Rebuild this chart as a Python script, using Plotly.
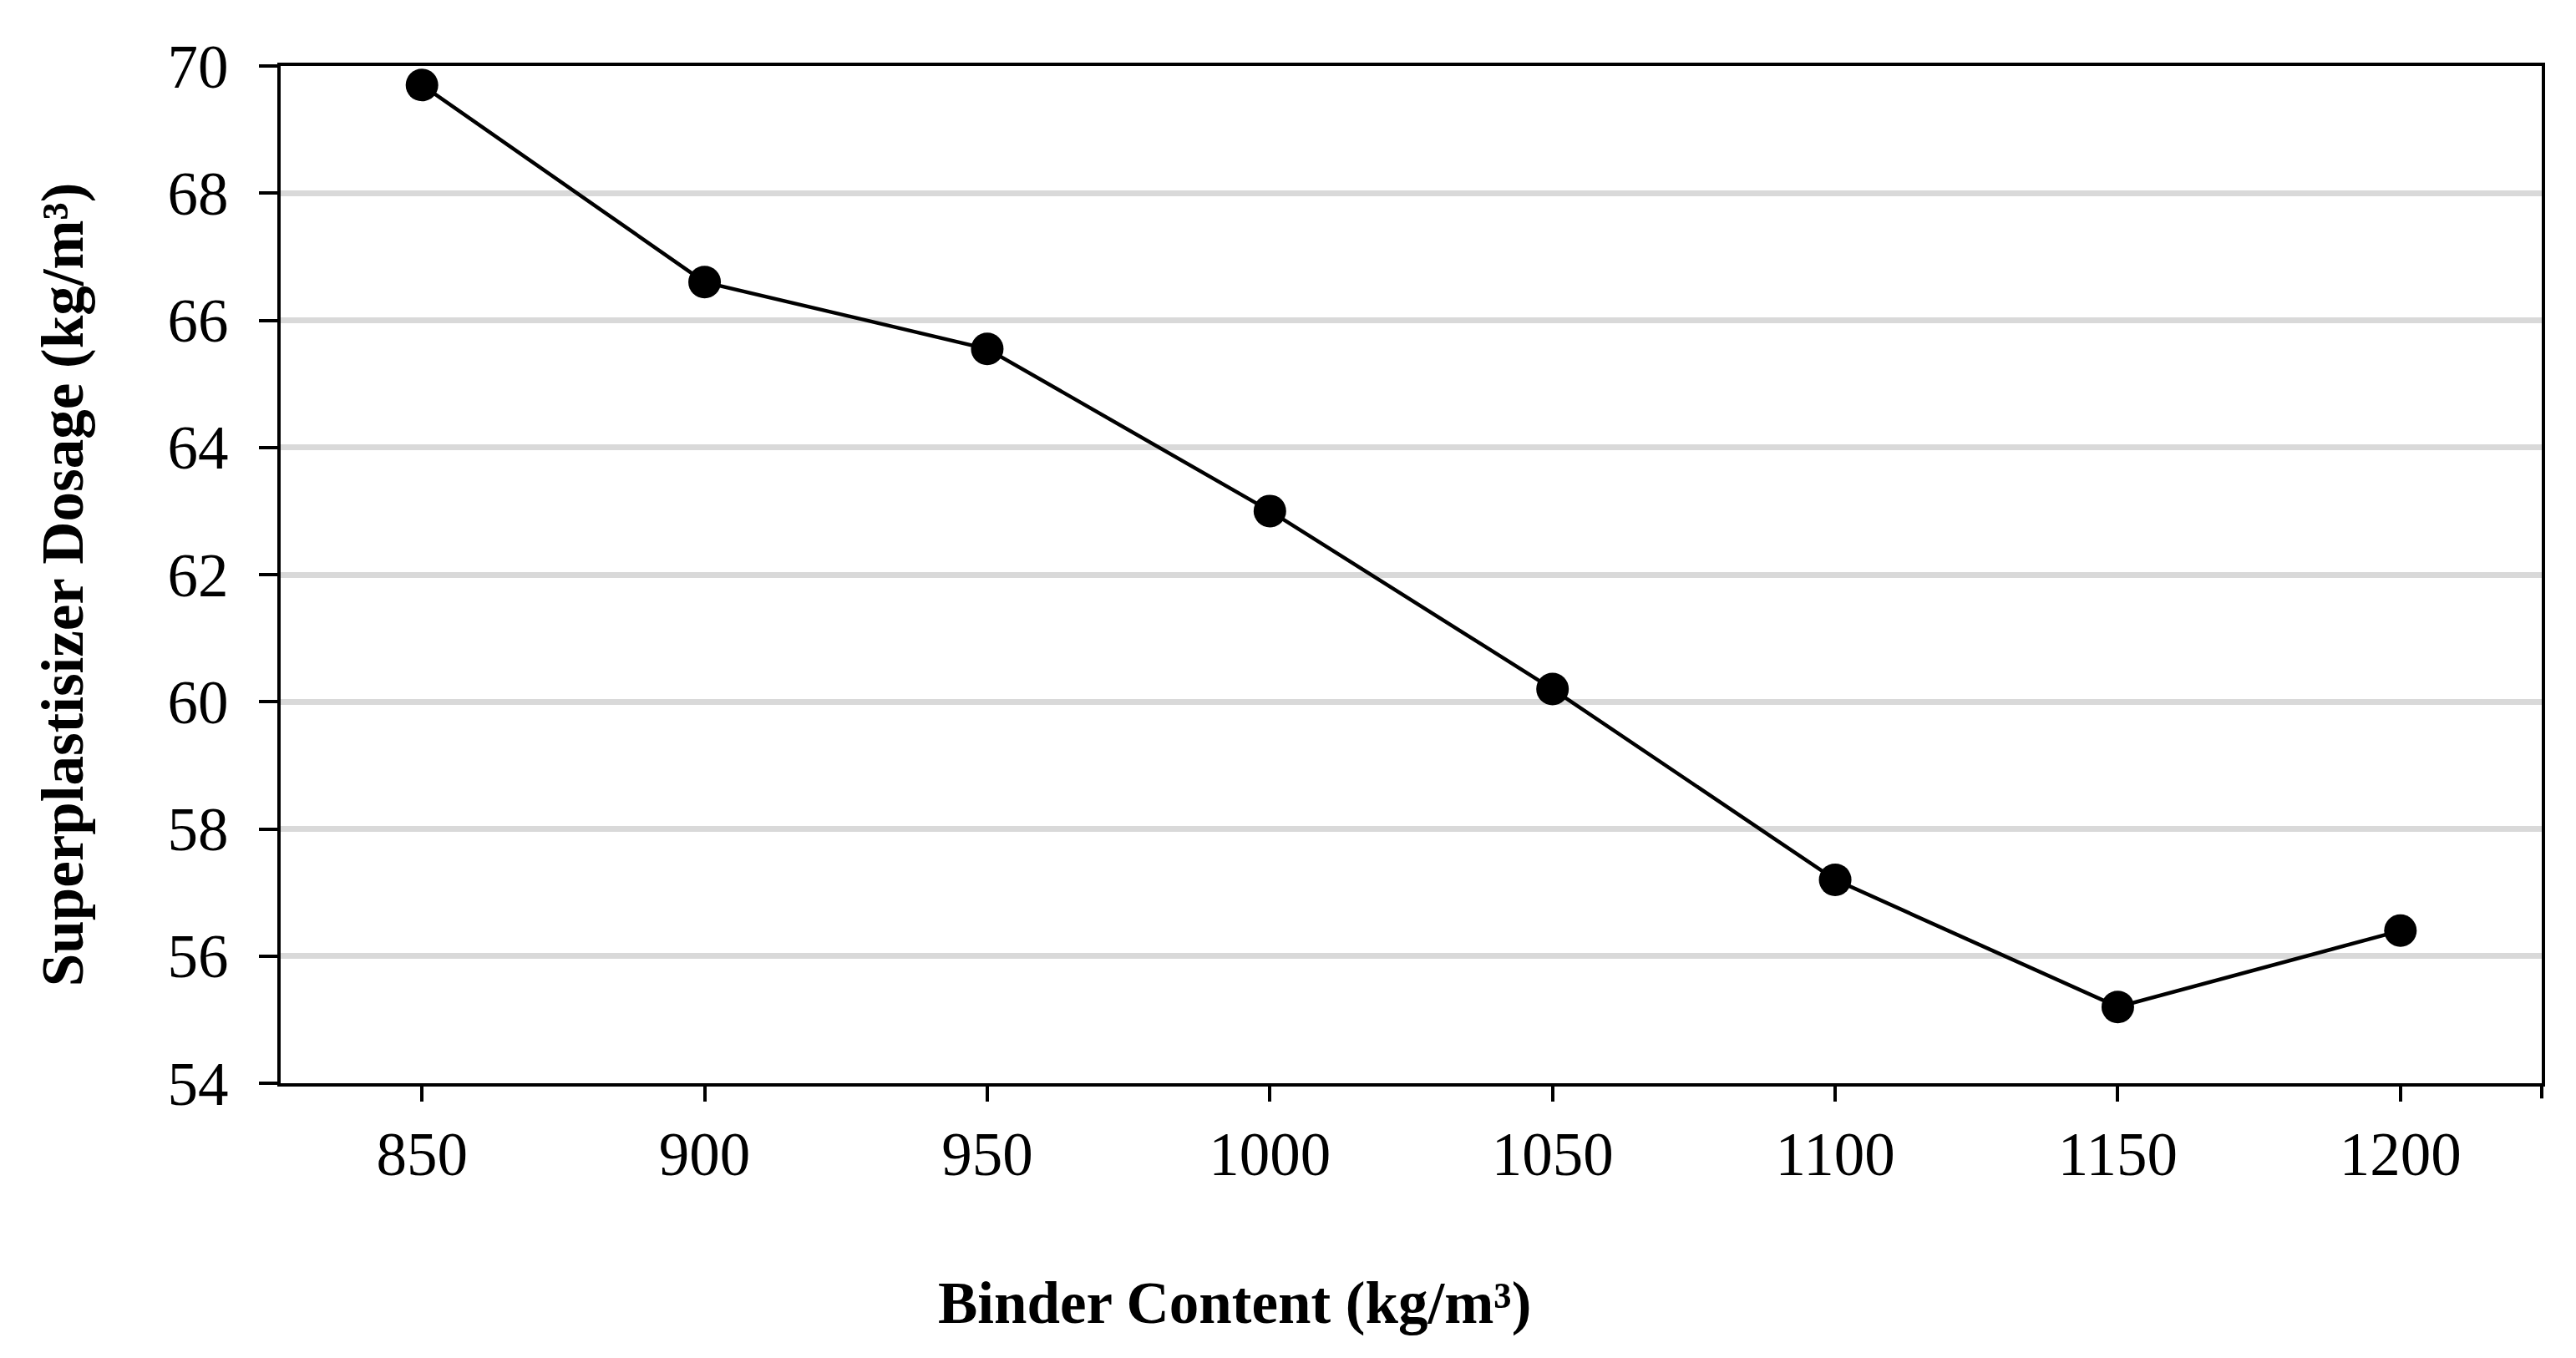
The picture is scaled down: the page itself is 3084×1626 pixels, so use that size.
import plotly.graph_objects as go

# Data
binder_content = [850, 900, 950, 1000, 1050, 1100, 1150, 1200]
sp_dosage = [69.7, 66.6, 65.55, 63.0, 60.2, 57.2, 55.2, 56.4]
x_ticks = [850, 900, 950, 1000, 1050, 1100, 1150, 1200]
y_ticks = [54, 56, 58, 60, 62, 64, 66, 68, 70]

x_title = "Binder Content (kg/m³)"
y_title = "Superplastisizer Dosage (kg/m³)"

tick_font = dict(family="Liberation Serif, Times New Roman, serif", size=73, color="black")
title_font = dict(family="Liberation Serif, Times New Roman, serif", size=71, color="black")

fig = go.Figure()

fig.add_trace(go.Scatter(
    x=binder_content,
    y=sp_dosage,
    mode="lines+markers",
    line=dict(color="black", width=4.5),
    marker=dict(color="black", size=39),
    showlegend=False
))

fig.update_xaxes(
    range=[825, 1225],
    tickvals=x_ticks,
    ticktext=[str(v) for v in x_ticks],
    showgrid=False,
    zeroline=False,
    showline=True,
    linecolor="black",
    linewidth=4,
    mirror=True,
    ticks="outside",
    ticklen=18,
    tickwidth=4,
    tickcolor="black",
    tickfont=tick_font,
)

fig.update_yaxes(
    range=[54, 70],
    tickvals=y_ticks,
    showgrid=True,
    gridcolor="#d9d9d9",
    gridwidth=7,
    zeroline=False,
    showline=True,
    linecolor="black",
    linewidth=4,
    mirror=True,
    ticks="outside",
    ticklen=22,
    tickwidth=4,
    tickcolor="black",
    tickfont=tick_font,
    ticklabelstandoff=22,
)

# small tick below the right end of the x axis, as in the original
fig.add_shape(
    type="line", xref="paper", yref="paper",
    x0=1, x1=1, y0=0, y1=-0.015,
    line=dict(color="black", width=4),
)

# Axis titles placed as annotations to match the offset in the original
fig.add_annotation(
    text="<b>" + x_title + "</b>",
    xref="paper", yref="paper",
    x=0.4219, y=-0.216,
    xanchor="center", yanchor="middle",
    showarrow=False,
    font=title_font,
)
fig.add_annotation(
    text="<b>" + y_title + "</b>",
    xref="paper", yref="paper",
    x=-0.0964, y=0.49,
    xanchor="center", yanchor="middle",
    textangle=-90,
    showarrow=False,
    font=title_font,
)

fig.update_layout(
    width=3084,
    height=1626,
    margin=dict(l=328, r=49, t=71, b=337),
    paper_bgcolor="white",
    plot_bgcolor="white",
)

fig.write_html("out.html")
